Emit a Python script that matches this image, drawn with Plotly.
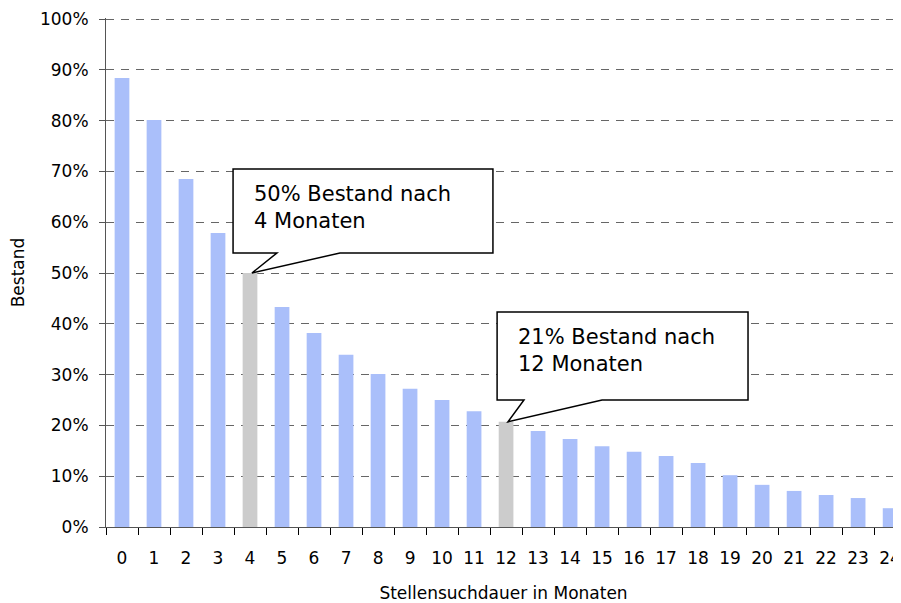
import plotly.graph_objects as go

# Data
months = list(range(25))
tick_labels = [str(m) for m in months]
bestand = [0.884, 0.801, 0.685, 0.579, 0.500, 0.433, 0.382, 0.339, 0.301, 0.272,
           0.250, 0.228, 0.207, 0.189, 0.173, 0.159, 0.148, 0.140, 0.126, 0.102,
           0.083, 0.071, 0.063, 0.057, 0.037]
highlight = [4, 12]
callout_texts = {4: "50% Bestand nach<br>4 Monaten", 12: "21% Bestand nach<br>12 Monaten"}

BLUE = "#AABFFA"
GRAY = "#CCCCCC"
colors = [GRAY if m in highlight else BLUE for m in months]
FONT = "DejaVu Sans"

fig = go.Figure()
fig.add_trace(go.Bar(x=months, y=bestand, width=0.46, marker=dict(color=colors, line=dict(width=0)),
                     showlegend=False, hoverinfo="x+y"))

# Callout geometry (data units, relative to the anchor bar)
callouts = [
    dict(idx=4, left=-0.53, right=7.59, top=0.7047, bottom=0.5394, bl=0.84, br=2.81),
    dict(idx=12, left=-0.28, right=7.56, top=0.4232, bottom=0.25, bl=0.56, br=3.0),
]
shapes = []
annotations = []
for c in callouts:
    i = c["idx"]
    tx, ty = i + 0.06, bestand[i]
    L, R, T, B = i + c["left"], i + c["right"], c["top"], c["bottom"]
    p = (f"M {L},{T} L {R},{T} L {R},{B} L {i + c['br']},{B} L {tx},{ty} "
         f"L {i + c['bl']},{B} L {L},{B} Z")
    shapes.append(dict(type="path", path=p, xref="x", yref="y",
                       fillcolor="white", line=dict(color="black", width=1.5), layer="above"))
    annotations.append(dict(x=L + 0.6, y=T - 0.022, xref="x", yref="y", xanchor="left", yanchor="top",
                            text=callout_texts[i], showarrow=False, align="left",
                            font=dict(family=FONT, size=21, color="black")))

fig.update_layout(
    width=901, height=603,
    margin=dict(l=98, r=8, t=10, b=84, autoexpand=False),
    paper_bgcolor="white", plot_bgcolor="white",
    font=dict(family=FONT, size=17, color="black"),
    bargap=0.54,
    shapes=shapes, annotations=annotations,
    xaxis=dict(
        range=[-0.5, 24.34], tickmode="array", tickvals=months, ticktext=tick_labels,
        ticks="", showgrid=False, zeroline=False, automargin=False,
        showline=True, linecolor="#555555", linewidth=1,
        tickfont=dict(family=FONT, size=17), ticklabelstandoff=16,
        minor=dict(tickmode="array", tickvals=[m - 0.5 for m in months] + [24.5],
                   ticks="outside", ticklen=7, tickcolor="black", showgrid=False),
        title=dict(text="Stellensuchdauer in Monaten", font=dict(family=FONT, size=17), standoff=19),
    ),
    yaxis=dict(
        range=[0, 1.002], tickmode="array", tickvals=[k / 10 for k in range(11)], tickformat=".0%",
        ticks="outside", ticklen=6, tickcolor="#555555", automargin=False,
        showline=True, linecolor="#555555", linewidth=1,
        showgrid=True, gridcolor="#666666", gridwidth=1, griddash="8px,7px",
        zeroline=False, tickfont=dict(family=FONT, size=17), ticklabelstandoff=7,
        title=dict(text="Bestand", font=dict(family=FONT, size=17), standoff=14),
    ),
)

fig.write_html("out.html")
